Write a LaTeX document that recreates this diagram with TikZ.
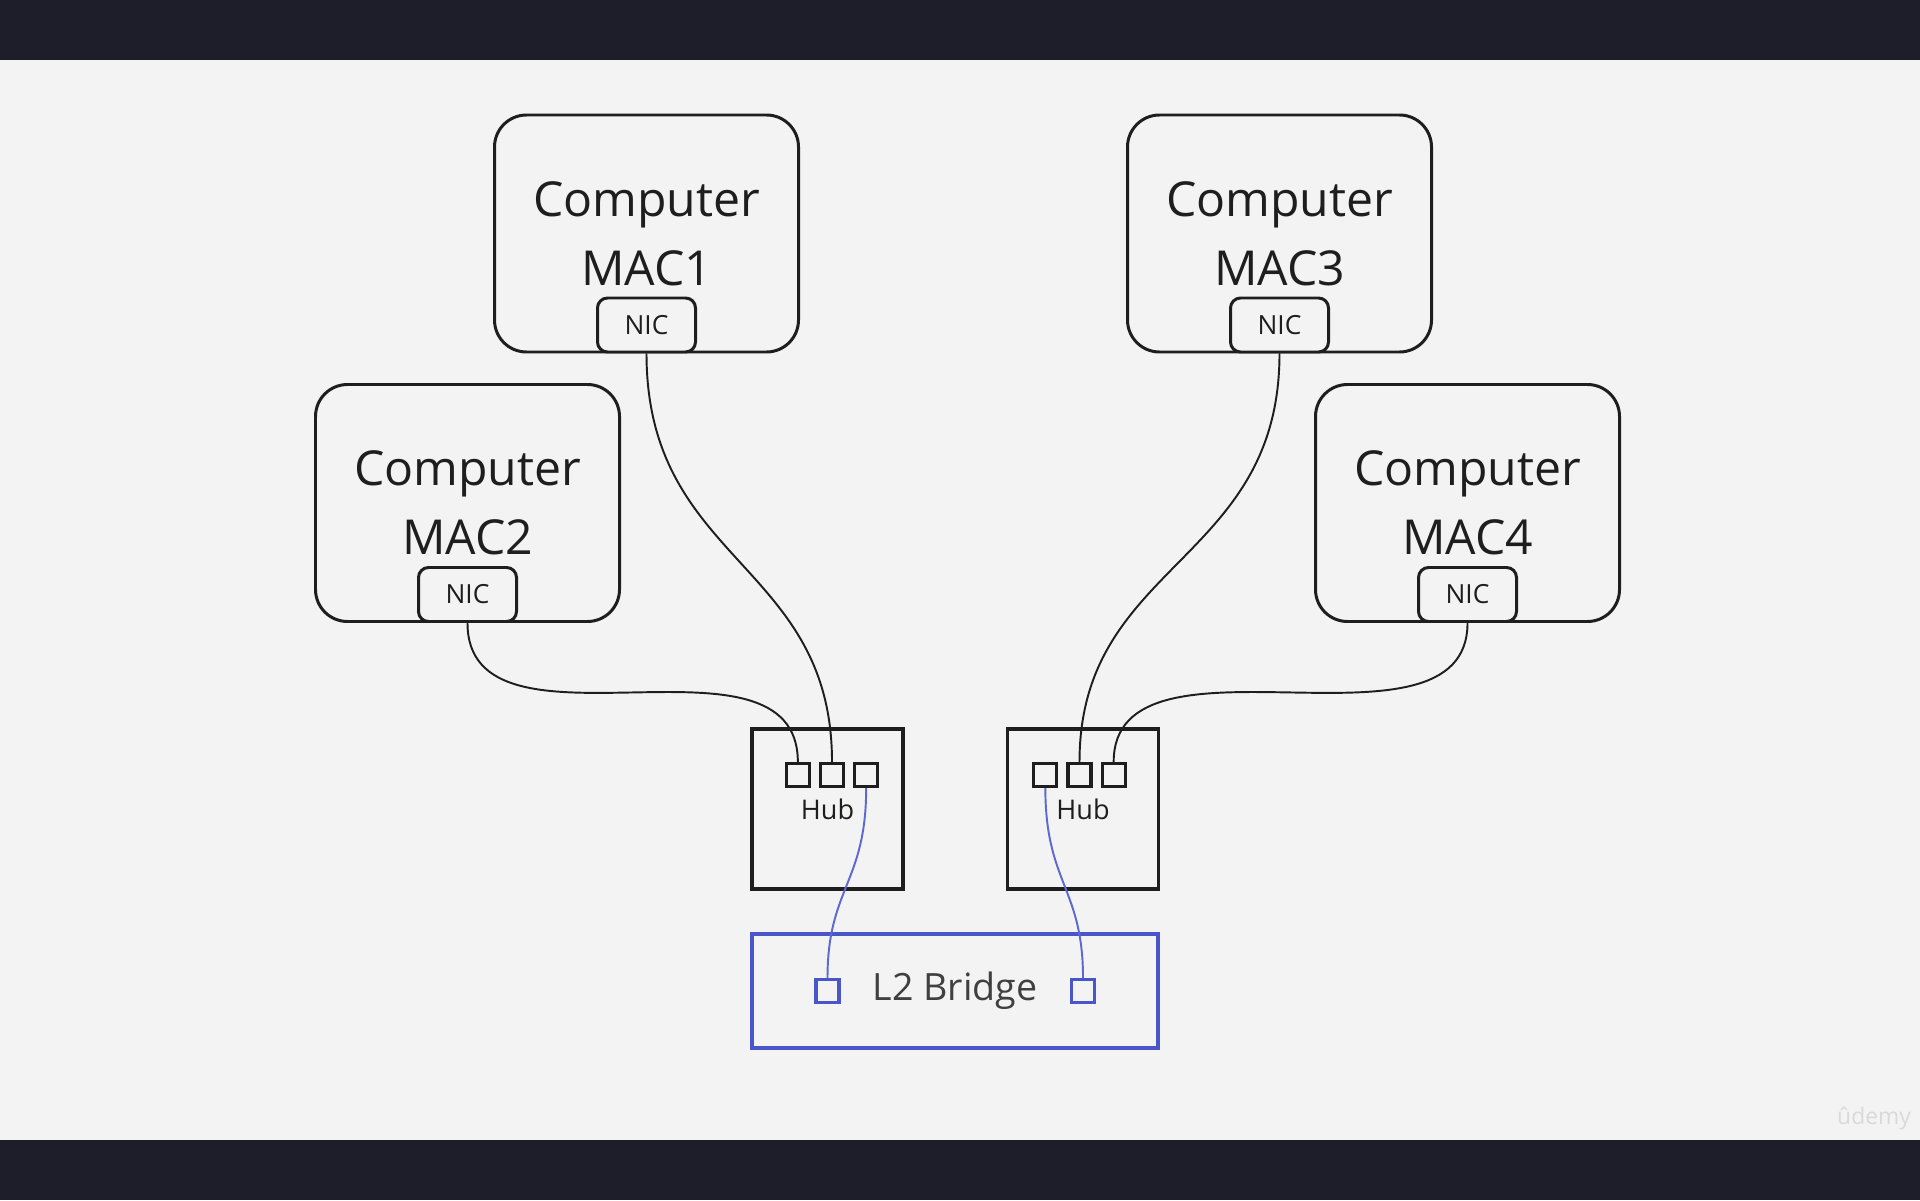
\documentclass[tikz,border=0pt]{standalone}
\usepackage{fontspec}
\setmainfont{Open Sans}
\usepackage{xcolor}
\definecolor{bgpage}{HTML}{F3F3F3}
\definecolor{bandbar}{HTML}{1D1E2A}
\definecolor{inkdark}{HTML}{1E1E1E}
\definecolor{bridgeblue}{HTML}{4A55C9}
\definecolor{wireblue}{HTML}{5F68D2}
\usepackage{tikz}
\usetikzlibrary{positioning}

\begin{document}
\begin{tikzpicture}[
    compbox/.style={rectangle, draw=inkdark, rounded corners=0.32cm, minimum width=3.04cm, minimum height=2.37cm, line width=0.85pt, align=center, text=inkdark, font=\fontsize{13.7}{19.6}\selectfont, inner sep=0},
    nicbox/.style={rectangle, draw=inkdark, fill=bgpage, rounded corners=0.1cm, minimum width=0.98cm, minimum height=0.54cm, line width=0.85pt, text=inkdark, font=\fontsize{7.5}{9}\selectfont, inner sep=0, anchor=south},
    hubbox/.style={rectangle, draw=inkdark, minimum width=1.51cm, minimum height=1.60cm, line width=1.1pt, text=inkdark, font=\fontsize{7.7}{9}\selectfont, inner sep=0},
    portbox/.style={rectangle, draw=inkdark, minimum size=0.23cm, line width=0.9pt, inner sep=0},
    bridgebox/.style={rectangle, draw=bridgeblue, minimum width=4.06cm, minimum height=1.14cm, line width=1pt, text=inkdark!85, font=\fontsize{10.7}{13}\selectfont, inner sep=0},
    bport/.style={portbox, draw=bridgeblue},
    wire/.style={inkdark, line width=0.55pt},
    bluewire/.style={wireblue, line width=0.55pt},
  ]
    \useasboundingbox (0,0) rectangle (19.2,12);
    \fill[bgpage] (0,0) rectangle (19.2,12);
    \fill[bandbar] (0,11.4) rectangle (19.2,12);
    \fill[bandbar] (0,0) rectangle (19.2,0.6);

    % computers
    \node[compbox] (mac1) at (6.465,9.665) {Computer\\MAC1};
    \node[compbox] (mac2) at (4.675,6.97) {Computer\\MAC2};
    \node[compbox] (mac3) at (12.795,9.665) {Computer\\MAC3};
    \node[compbox] (mac4) at (14.675,6.97) {Computer\\MAC4};
    \node[nicbox] (nic1) at (mac1.south) {NIC};
    \node[nicbox] (nic2) at (mac2.south) {NIC};
    \node[nicbox] (nic3) at (mac3.south) {NIC};
    \node[nicbox] (nic4) at (mac4.south) {NIC};

    % hubs
    \node[hubbox] (hub1) at (8.275,3.91) {Hub};
    \node[hubbox] (hub2) at (10.83,3.91) {Hub};
    \node[portbox] (h1p2) at ([xshift=0.045cm, yshift=0.34cm]hub1.center) {};
    \node[portbox, left=0.08cm of h1p2] (h1p1) {};
    \node[portbox, right=0.08cm of h1p2] (h1p3) {};
    \node[portbox] (h2p2) at ([xshift=-0.035cm, yshift=0.34cm]hub2.center) {};
    \node[portbox, left=0.08cm of h2p2] (h2p1) {};
    \node[portbox, right=0.08cm of h2p2] (h2p3) {};

    % bridge
    \node[bridgebox] (bridge) at (9.55,2.09) {L2 Bridge};
    \node[bport] (bp1) at (hub1 |- bridge) {};
    \node[bport] (bp2) at (hub2 |- bridge) {};

    \draw[wire] (nic2.south) .. controls +(0,-1.45) and +(0,1.45) .. (h1p1.north);
    \draw[wire] (nic1.south) .. controls +(0,-2.1) and +(0,2.0) .. (h1p2.north);
    \draw[wire] (nic3.south) .. controls +(0,-2.1) and +(0,2.0) .. (h2p2.north);
    \draw[wire] (nic4.south) .. controls +(0,-1.45) and +(0,1.45) .. (h2p3.north);
    \draw[bluewire] (h1p3.south) .. controls +(0,-0.95) and +(0,0.9) .. (bp1.north);
    \draw[bluewire] (h2p1.south) .. controls +(0,-0.95) and +(0,0.9) .. (bp2.north);

    \node[text=black!15, font=\fontsize{6.5}{8}\selectfont] (mark) at (18.74,0.82) {ûdemy};
  \end{tikzpicture}
\end{document}
